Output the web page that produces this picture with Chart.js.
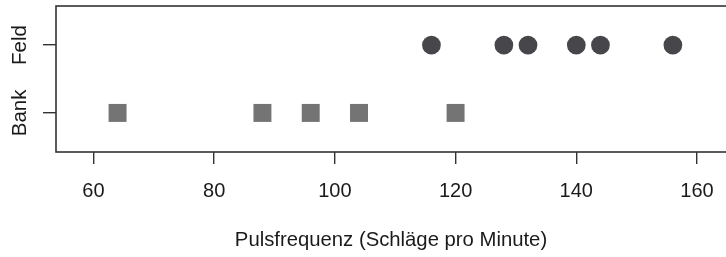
<!DOCTYPE html>
<html>
<head>
<meta charset="utf-8">
<script src="https://cdn.jsdelivr.net/npm/chart.js@4/dist/chart.umd.min.js"></script>
<style>
  html, body { margin: 0; padding: 0; background: #fff; }
  #wrap { width: 726px; height: 257px; }
</style>
</head>
<body>
<div id="wrap"><canvas id="c"></canvas></div>
<script>
// Pulsfrequenz nach Lage (Bank / Feld)
var groups = ['Bank', 'Feld'];
var bankPulse = [64, 88, 96, 104, 120];
var feldPulse = [116, 128, 132, 140, 144, 156];
var xTicks = [60, 80, 100, 120, 140, 160];
var xTitle = 'Pulsfrequenz (Schläge pro Minute)';

var FONT = "'Liberation Sans', Arial, Helvetica, sans-serif";
var INK = '#333';
var TXT = '#1a1a1a';

function toPoints(vals, y) {
  return vals.map(function(v) { return {x: v, y: y}; });
}

// keine Extra-Abstaende fuer ueberstehende Beschriftungen
function noPad(s) {
  s.paddingLeft = 0; s.paddingRight = 0; s.paddingTop = 0; s.paddingBottom = 0;
}

// Rahmen um den Plotbereich + gedrehte y-Beschriftung
var frame = {
  id: 'frame',
  afterDraw: function(chart) {
    var a = chart.chartArea, ctx = chart.ctx, ys = chart.scales.y;
    ctx.save();
    ctx.strokeStyle = INK;
    ctx.lineWidth = 1.6;
    ctx.strokeRect(a.left, a.top, a.right - a.left + 4, a.bottom - a.top);
    ctx.fillStyle = TXT;
    ctx.font = '20.5px ' + FONT;
    ctx.textAlign = 'center';
    ctx.textBaseline = 'middle';
    groups.forEach(function(g, i) {
      var py = ys.getPixelForValue(i + 1);
      ctx.save();
      ctx.translate(20, py);
      ctx.rotate(-Math.PI / 2);
      ctx.fillText(g, 0, 0);
      ctx.restore();
    });
    ctx.restore();
  }
};

new Chart(document.getElementById('c'), {
  type: 'scatter',
  data: {
    datasets: [{
      label: groups[0],
      data: toPoints(bankPulse, 1),
      pointStyle: 'rect',
      pointRadius: 12.7,
      pointHoverRadius: 12.7,
      backgroundColor: '#747474',
      borderWidth: 0
    }, {
      label: groups[1],
      data: toPoints(feldPulse, 2),
      pointStyle: 'circle',
      pointRadius: 9.4,
      pointHoverRadius: 9.4,
      backgroundColor: '#47474b',
      borderWidth: 0
    }]
  },
  options: {
    responsive: true,
    maintainAspectRatio: false,
    animation: false,
    layout: { autoPadding: false, padding: { top: 6, right: 0, left: 0, bottom: 0 } },
    plugins: { legend: { display: false }, tooltip: { enabled: false } },
    scales: {
      x: {
        type: 'linear',
        min: 53.8,
        max: 164.8,
        afterBuildTicks: function(s) { s.ticks = xTicks.map(function(v) { return {value: v}; }); },
        afterFit: function(s) { s.height = 105; noPad(s); },
        border: { display: false },
        grid: { drawOnChartArea: false, tickLength: 12, color: INK, lineWidth: 1.4 },
        ticks: { color: TXT, padding: 15, font: { family: FONT, size: 20 } },
        title: {
          display: true,
          text: xTitle,
          color: TXT,
          font: { family: FONT, size: 20.3 },
          padding: { top: 0, bottom: 4 }
        }
      },
      y: {
        type: 'linear',
        min: 0.424,
        max: 2.576,
        afterBuildTicks: function(s) { s.ticks = [{value: 1}, {value: 2}]; },
        afterFit: function(s) { s.width = 56; noPad(s); },
        border: { display: false },
        grid: { drawOnChartArea: false, tickLength: 13, color: INK, lineWidth: 1.4 },
        ticks: { display: false }
      }
    }
  },
  plugins: [frame]
});
</script>
</body>
</html>
